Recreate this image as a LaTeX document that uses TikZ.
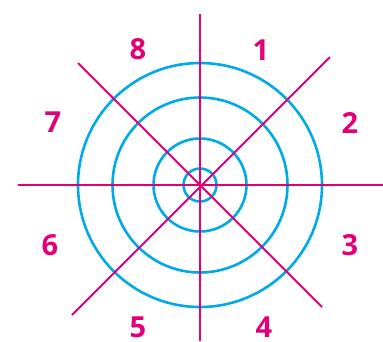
\documentclass[tikz,border=0pt]{standalone}
\usepackage{fontspec}
\setmainfont{Open Sans}
\definecolor{mag}{RGB}{226,0,122}
\definecolor{cy}{RGB}{0,170,230}
\begin{document}
\begin{tikzpicture}[x=1pt,y=-1pt,
  ray/.style={draw=mag,line width=2pt},
  ring/.style={draw=cy,line width=2.6pt},
  lbl/.style={text=mag,font=\fontsize{29}{30}\selectfont\bfseries,inner sep=0pt}]
\useasboundingbox (0,0) rectangle (383,341);
\coordinate (c) at (200,185);
\draw[ring] (c) circle[radius=122];
\draw[ring] (c) circle[radius=87.5];
\draw[ring] (c) circle[radius=46.5];
\draw[ring] (c) circle[radius=16.5];
\coordinate (t) at (200,14);
\coordinate (b) at (200,341);
\coordinate (l) at (18,185);
\coordinate (r) at (383,185);
\coordinate (ul) at (78,63);
\coordinate (lr) at (322,307);
\coordinate (ur) at (330,57);
\coordinate (ll) at (72,315);
\draw[ray] (t) -- (b);
\draw[ray] (l) -- (r);
\draw[ray] (ul) -- (lr);
\draw[ray] (ur) -- (ll);
\node[lbl] (n1) at (261,50) {1};
\node[lbl] (n2) at (350,123) {2};
\node[lbl] (n3) at (350,245) {3};
\node[lbl] (n4) at (264,327) {4};
\node[lbl] (n5) at (138,327) {5};
\node[lbl] (n6) at (50,245) {6};
\node[lbl] (n7) at (53,122) {7};
\node[lbl] (n8) at (138,49) {8};
\end{tikzpicture}
\end{document}
